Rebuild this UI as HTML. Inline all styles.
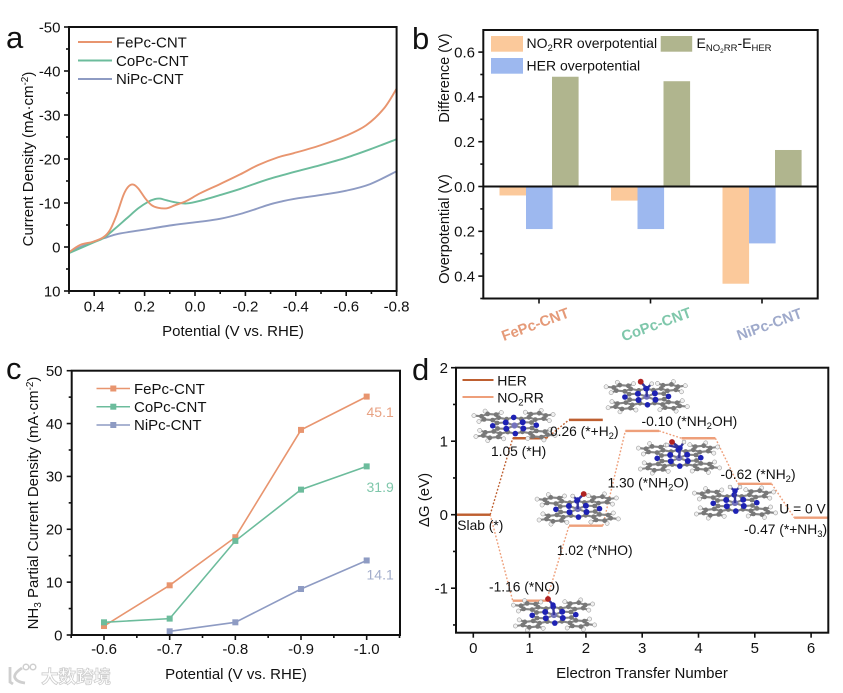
<!DOCTYPE html>
<html lang="en">
<head>
<meta charset="utf-8">
<title>Electrocatalysis figure</title>
<style>
html,body{margin:0;padding:0;background:#fff;width:843px;height:693px;overflow:hidden}
svg{display:block;filter:blur(.35px)}
text{font-family:"Liberation Sans","Noto Sans CJK SC",sans-serif;fill:#111;font-size:15px}
.pl{font-size:31px;fill:#111}
.an{font-size:13.8px}
.tk{font-size:15px}
</style>
</head>
<body>
<svg id="fig" width="843" height="693" viewBox="0 0 843 693" xmlns="http://www.w3.org/2000/svg">
  <rect width="843" height="693" fill="#fff"/>

  <g id="panel-a"></g>
  <g id="panel-b"></g>
  <g id="panel-c"></g>
  <g id="panel-d"></g>

  <!-- Panel letters -->
  <text class="pl" x="6" y="48">a</text>
  <text class="pl" x="412" y="49">b</text>
  <text class="pl" x="6" y="379">c</text>
  <text class="pl" x="412" y="380">d</text>

  <!-- Panel a static -->
  <text x="233" y="336" text-anchor="middle">Potential (V vs. RHE)</text>
  <text transform="translate(33,159) rotate(-90)" text-anchor="middle">Current Density (mA·cm<tspan dy="-5" style="font-size:10px">-2</tspan><tspan dy="5">)</tspan></text>
  <g>
    <line x1="78" x2="112" y1="42" y2="42" stroke="#E8956F" stroke-width="2"/>
    <text x="116" y="47.5">FePc-CNT</text>
    <line x1="78" x2="112" y1="60.5" y2="60.5" stroke="#6CBC9C" stroke-width="2"/>
    <text x="116" y="66">CoPc-CNT</text>
    <line x1="78" x2="112" y1="79" y2="79" stroke="#8E9BC3" stroke-width="2"/>
    <text x="116" y="84">NiPc-CNT</text>
  </g>

  <!-- Panel b static -->
  <text transform="translate(449,78) rotate(-90)" text-anchor="middle" style="font-size:14.5px">Difference (V)</text>
  <text transform="translate(449,229) rotate(-90)" text-anchor="middle" style="font-size:14.5px">Overpotential (V)</text>
  <g>
    <rect x="491" y="36" width="32" height="15.7" fill="#FBC99B"/>
    <text x="526.5" y="48" style="font-size:14px">NO<tspan dy="3" style="font-size:9.5px">2</tspan><tspan dy="-3">RR overpotential</tspan></text>
    <rect x="660.7" y="36" width="31.5" height="15.7" fill="#B0B58E"/>
    <text x="696.5" y="48" style="font-size:14px">E<tspan dy="3" style="font-size:9.5px">NO</tspan><tspan dy="2" style="font-size:6.5px">2</tspan><tspan dy="-2" style="font-size:9.5px">RR</tspan><tspan dy="-3">-E</tspan><tspan dy="3" style="font-size:9.5px">HER</tspan></text>
    <rect x="491" y="58" width="32" height="15.7" fill="#9DB8EF"/>
    <text x="526.5" y="70.7" style="font-size:14px">HER overpotential</text>
  </g>

  <!-- Panel c static -->
  <text x="236" y="679" text-anchor="middle">Potential (V vs. RHE)</text>
  <text transform="translate(38,503) rotate(-90)" text-anchor="middle">NH<tspan dy="3" style="font-size:10px">3</tspan><tspan dy="-3"> Partial Current Density (mA·cm</tspan><tspan dy="-5" style="font-size:10px">-2</tspan><tspan dy="5">)</tspan></text>
  <g>
    <line x1="96.5" x2="130" y1="388.5" y2="388.5" stroke="#E8956F" stroke-width="1.5"/>
    <rect x="110.3" y="385.5" width="6" height="6" fill="#E8956F"/>
    <text x="134" y="394">FePc-CNT</text>
    <line x1="96.5" x2="130" y1="406.7" y2="406.7" stroke="#6CBC9C" stroke-width="1.5"/>
    <rect x="110.3" y="403.7" width="6" height="6" fill="#6CBC9C"/>
    <text x="134" y="412">CoPc-CNT</text>
    <line x1="96.5" x2="130" y1="425" y2="425" stroke="#8E9BC3" stroke-width="1.5"/>
    <rect x="110.3" y="422" width="6" height="6" fill="#8E9BC3"/>
    <text x="134" y="430">NiPc-CNT</text>
  </g>
  <text x="366.5" y="417" style="font-size:14px;fill:#E8A283">45.1</text>
  <text x="366.5" y="492" style="font-size:14px;fill:#7FC7AB">31.9</text>
  <text x="366.5" y="579.5" style="font-size:14px;fill:#A2ADCB">14.1</text>

  <!-- Panel d static -->
  <text x="642" y="678" text-anchor="middle">Electron Transfer Number</text>
  <text transform="translate(429,500) rotate(-90)" text-anchor="middle">ΔG (eV)</text>
  <g>
    <line x1="462.5" x2="493.5" y1="380" y2="380" stroke="#BE5F30" stroke-width="2"/>
    <text x="497.3" y="385.5" style="font-size:14px">HER</text>
    <line x1="462.5" x2="493.5" y1="397" y2="397" stroke="#EE9F7A" stroke-width="2"/>
    <text x="497.3" y="402.5" style="font-size:14px">NO<tspan dy="3" style="font-size:9.5px">2</tspan><tspan dy="-3">RR</tspan></text>
  </g>
  <g id="d-annotations">
    <text class="an" x="491" y="456">1.05 (*H)</text>
    <text class="an" x="550" y="436">0.26 (*+H<tspan dy="3" style="font-size:9.5px">2</tspan><tspan dy="-3">)</tspan></text>
    <text class="an" x="641.5" y="426">-0.10 (*NH<tspan dy="3" style="font-size:9.5px">2</tspan><tspan dy="-3">OH)</tspan></text>
    <text class="an" x="607.5" y="487.5">1.30 (*NH<tspan dy="3" style="font-size:9.5px">2</tspan><tspan dy="-3">O)</tspan></text>
    <text class="an" x="720.5" y="479">-0.62 (*NH<tspan dy="3" style="font-size:9.5px">2</tspan><tspan dy="-3">)</tspan></text>
    <text class="an" x="779.3" y="513.5">U = 0 V</text>
    <text class="an" x="744" y="534">-0.47 (*+NH<tspan dy="3" style="font-size:9.5px">3</tspan><tspan dy="-3">)</tspan></text>
    <text class="an" x="457.3" y="530">Slab (*)</text>
    <text class="an" x="556.7" y="555">1.02 (*NHO)</text>
    <text class="an" x="489" y="591.5">-1.16 (*NO)</text>
  </g>

  <!-- Watermark -->
  <g>
    <path d="M10 667v15l3 2 M22 668q-9 6-7 10t10 5" fill="none" stroke="#cfcfcf" stroke-width="2.8"/>
    <circle cx="26" cy="667" r="2.8" fill="#fff" stroke="#cfcfcf" stroke-width="1.5"/>
    <circle cx="33" cy="667" r="2.8" fill="#fff" stroke="#cfcfcf" stroke-width="1.5"/>
    <text x="41" y="683" style="font-size:17.5px;font-weight:bold;fill:#fff;stroke:#cdcdcd;stroke-width:.8px">大数跨境</text>
  </g>
</svg>

<script>
/* ---------- Panel a: LSV curves ---------- */
const aPotentialFe = [0.5,0.456,0.404,0.364,0.337,0.311,0.284,0.265,0.245,0.225,0.198,0.172,0.146,0.112,0.079,0.033,-0.02,-0.099,-0.179,-0.25,-0.33,-0.39,-0.497,-0.6,-0.68,-0.75,-0.8];
const aCurrentFe = [1.2,-0.45,-1.2,-2.2,-3.9,-7.3,-11.8,-13.7,-14.2,-13.3,-11.1,-9.5,-8.9,-8.8,-9.5,-10.5,-12.2,-14.3,-16.5,-18.6,-20.4,-21.3,-23.1,-25.3,-27.7,-31.5,-36];
const aPotentialCo = [0.5,0.404,0.364,0.317,0.271,0.225,0.185,0.159,0.139,0.112,0.073,0.033,-0.02,-0.099,-0.179,-0.285,-0.39,-0.497,-0.6,-0.695,-0.8];
const aCurrentCo = [1.4,-1,-2,-4.2,-6.5,-8.8,-10.3,-10.9,-11,-10.6,-10.1,-9.9,-10.5,-11.8,-13.2,-15.3,-17,-18.6,-20.3,-22.2,-24.5];
const aPotentialNi = [0.5,0.404,0.35,0.304,0.205,0.086,-0.02,-0.099,-0.179,-0.24,-0.298,-0.34,-0.39,-0.497,-0.6,-0.695,-0.8];
const aCurrentNi = [1.1,-1.2,-2.2,-3,-3.9,-5,-5.75,-6.4,-7.5,-8.6,-9.7,-10.3,-10.9,-11.8,-12.8,-14.3,-17.2];
const aXMajor = [0.4,0.2,0,-0.2,-0.4,-0.6,-0.8];
const aXMinor = [0.5,0.3,0.1,-0.1,-0.3,-0.5,-0.7];
const aYMajor = [-50,-40,-30,-20,-10,0,10];
const aYMinor = [-45,-35,-25,-15,-5,5];

/* ---------- Panel b: bars ---------- */
const bCategories = ['FePc-CNT','CoPc-CNT','NiPc-CNT'];
const bNo2rrOverpotential = [0.04,0.063,0.434];
const bHerOverpotential = [0.19,0.19,0.254];
const bDifference = [0.49,0.47,0.163];
const bYMajor = [0.6,0.4,0.2,0,-0.2,-0.4];
const bYMinor = [0.5,0.3,0.1,-0.1,-0.3,-0.5];

/* ---------- Panel c: partial current ---------- */
const cPotential = [-0.6,-0.7,-0.8,-0.9,-1.0];
const cFe = [1.7,9.4,18.5,38.8,45.1];
const cCo = [2.4,3.1,17.8,27.5,31.9];
const cNi = [null,0.7,2.4,8.7,14.1];
const cXMinor = [-0.55,-0.65,-0.75,-0.85,-0.95,-1.05];
const cYMajor = [0,10,20,30,40,50];
const cYMinor = [5,15,25,35,45];

/* ---------- Panel d: free-energy diagram ---------- */
const dHerEnergy = [0,1.04,1.29];
const dNo2rrEnergy = [0,-1.17,-0.15,1.14,1.04,0.42,-0.04];
const dXMajor = [0,1,2,3,4,5,6];
const dYMajor = [-1,0,1,2];
const dYMinor = [-1.5,-0.5,0.5,1.5];

const NS = 'http://www.w3.org/2000/svg';
function mk(parent, tag, attrs, txt) {
  const e = document.createElementNS(NS, tag);
  for (const k in attrs) e.setAttribute(k, attrs[k]);
  if (txt !== undefined) e.textContent = txt;
  parent.appendChild(e);
  return e;
}
function smoothPath(pts) {
  let d = 'M' + pts[0][0].toFixed(2) + ' ' + pts[0][1].toFixed(2);
  for (let i = 0; i < pts.length - 1; i++) {
    const p0 = pts[Math.max(i - 1, 0)], p1 = pts[i], p2 = pts[i + 1], p3 = pts[Math.min(i + 2, pts.length - 1)];
    const c1x = p1[0] + (p2[0] - p0[0]) / 6, c1y = p1[1] + (p2[1] - p0[1]) / 6;
    const c2x = p2[0] - (p3[0] - p1[0]) / 6, c2y = p2[1] - (p3[1] - p1[1]) / 6;
    d += 'C' + [c1x, c1y, c2x, c2y, p2[0], p2[1]].map(v => v.toFixed(2)).join(' ');
  }
  return d;
}
function tickX(g, x, yBase, len, label, labelY) {
  const t = mk(g, 'line', {x1:x, x2:x, y1:yBase, y2:yBase + len, stroke:'#111', 'stroke-width':1.6});
  
  
  if (label !== undefined) {
    const l = mk(g, 'text', {x:x, y:labelY, 'text-anchor':'middle', class:'tk'}, label);
    
    
  }
}
function tickY(g, y, xBase, len, label, labelX) {
  const t = mk(g, 'line', {x1:xBase, x2:xBase - len, y1:y, y2:y, stroke:'#111', 'stroke-width':1.6});
  
  
  if (label !== undefined) {
    const l = mk(g, 'text', {x:labelX, y:y + 5.3, 'text-anchor':'end', class:'tk'}, label);
    
    
  }
}
function frame(g, x0, y0, x1, y1) {
  const f = mk(g, 'rect', {x:x0, y:y0, width:x1 - x0, height:y1 - y0, fill:'none', stroke:'#111', 'stroke-width':2});
  
  
}
function fmtSigned(v) { return v === 0 ? '0.0' : v.toFixed(1); }

/* ---------- draw a ---------- */
(function () {
  const g = document.getElementById('panel-a');
  const xA = v => 195 - v * 252;
  const yA = v => 247 + v * 4.4;
  const series = [
    ['curve-nipc', aPotentialNi, aCurrentNi, '#8E9BC3'],
    ['curve-copc', aPotentialCo, aCurrentCo, '#6CBC9C'],
    ['curve-fepc', aPotentialFe, aCurrentFe, '#E8956F']
  ];
  series.forEach(s => {
    const pts = s[1].map((p, i) => [xA(p), yA(s[2][i])]);
    const c = mk(g, 'path', {d:smoothPath(pts), fill:'none', stroke:s[3], 'stroke-width':1.9});
    
    
  });
  frame(g, xA(0.5), yA(-50), xA(-0.8), yA(10));
  aXMajor.forEach(v => tickX(g, xA(v), 291, 5, fmtSigned(v), 311.7));
  aXMinor.forEach(v => tickX(g, xA(v), 291, 3));
  aYMajor.forEach(v => tickY(g, yA(v), 69, 5, String(v), 60.5));
  aYMinor.forEach(v => tickY(g, yA(v), 69, 3));
})();

/* ---------- draw b ---------- */
(function () {
  const g = document.getElementById('panel-b');
  const xB = i => 539 + i * 111.5;
  const yB = v => 186.5 - v * 224;
  const barW = 26.6;
  bCategories.forEach((cat, i) => {
    const cx = xB(i);
    const b1 = mk(g, 'rect', {x:cx - 39.5, y:yB(0), width:barW, height:yB(-bNo2rrOverpotential[i]) - yB(0), fill:'#FBC99B'});
    
    
    const b2 = mk(g, 'rect', {x:cx - 13, y:yB(0), width:barW, height:yB(-bHerOverpotential[i]) - yB(0), fill:'#9DB8EF'});
    
    
    const b3 = mk(g, 'rect', {x:cx + 13, y:yB(bDifference[i]), width:barW, height:yB(0) - yB(bDifference[i]), fill:'#B0B58E'});
    
    
  });
  const zero = mk(g, 'line', {x1:483.3, x2:817.7, y1:yB(0), y2:yB(0), stroke:'#111', 'stroke-width':2});
  
  
  frame(g, 483.3, 30, 817.7, 298.5);
  const colors = ['#E59A78', '#7FC7AB', '#9FAACB'];
  bCategories.forEach((cat, i) => {
    tickX(g, xB(i), 298.5, 5);
    const cx = [537, 658, 771][i];
    const l = mk(g, 'text', {transform:'translate(' + cx + ',329) rotate(-20)', 'text-anchor':'middle', style:'font-size:14.8px;font-weight:bold;fill:' + colors[i]}, cat);
    
    
  });
  bYMajor.forEach(v => tickY(g, yB(v), 483.3, 5, Math.abs(v).toFixed(1), 475));
  bYMinor.forEach(v => tickY(g, yB(v), 483.3, 3));
})();

/* ---------- draw c ---------- */
(function () {
  const g = document.getElementById('panel-c');
  const xC = v => 104 + (-0.6 - v) * 656.7;
  const yC = v => 635 - v * 5.286;
  const series = [
    ['fepc', cFe, '#E8956F'],
    ['copc', cCo, '#6CBC9C'],
    ['nipc', cNi, '#8E9BC3']
  ];
  series.forEach(s => {
    const pts = [];
    s[1].forEach((v, i) => { if (v !== null) pts.push([xC(cPotential[i]), yC(v)]); });
    const line = mk(g, 'polyline', {points:pts.map(p => p.join(',')).join(' '), fill:'none', stroke:s[2], 'stroke-width':1.6});
    
    
    pts.forEach(p => {
      const m = mk(g, 'rect', {x:p[0] - 3, y:p[1] - 3, width:6, height:6, fill:s[2]});
      
      
    });
  });
  frame(g, 71.7, 370.7, 400, 635);
  cPotential.forEach(v => tickX(g, xC(v), 635, 5, v.toFixed(1), 654));
  cXMinor.forEach(v => tickX(g, xC(v), 635, 3));
  cYMajor.forEach(v => tickY(g, yC(v), 71.7, 5, String(v), 62.5));
  cYMinor.forEach(v => tickY(g, yC(v), 71.7, 3));
})();

/* ---------- molecule drawing (decorative ball-and-stick) ---------- */
function drawMolecule(parent, name, cx, cy, adsorbate) {
  const mol = mk(parent, 'g', {});
  
  
  const ang = 43 * Math.PI / 180, sx = 6.3, sy = 2.35;
  const proj = (x, y) => {
    const a = x * Math.cos(ang) - y * Math.sin(ang);
    const b = x * Math.sin(ang) + y * Math.cos(ang);
    return [cx + a * sx, cy + b * sy];
  };
  const rot = (p, k) => {
    const c = [1, 0, -1, 0][k], s = [0, 1, 0, -1][k];
    return [p[0] * c - p[1] * s, p[0] * s + p[1] * c];
  };
  const unit = {N:[1.9,0], Ap:[2.75,1.1], Am:[2.75,-1.1], Bp:[4.1,.7], Bm:[4.1,-.7], Gp:[5.3,1.4], Gm:[5.3,-1.4],
    Dp:[6.5,.7], Dm:[6.5,-.7], Hgp:[5.3,2.6], Hgm:[5.3,-2.6], Hdp:[7.6,1.3], Hdm:[7.6,-1.3], Mp:[2.45,2.45], Mm:[2.45,-2.45]};
  const bonds = [['N','Ap'],['N','Am'],['Ap','Bp'],['Am','Bm'],['Bp','Bm'],['Bp','Gp'],['Bm','Gm'],['Gp','Dp'],['Gm','Dm'],['Dp','Dm'],
    ['Gp','Hgp'],['Gm','Hgm'],['Dp','Hdp'],['Dm','Hdm'],['Ap','Mp'],['Am','Mm']];
  let d = '';
  for (let k = 0; k < 4; k++) {
    bonds.forEach(b => {
      const p = proj(...rot(unit[b[0]], k)), q = proj(...rot(unit[b[1]], k));
      d += 'M' + p[0].toFixed(1) + ' ' + p[1].toFixed(1) + 'L' + q[0].toFixed(1) + ' ' + q[1].toFixed(1);
    });
    const n = proj(...rot(unit.N, k));
    d += 'M' + cx + ' ' + cy + 'L' + n[0].toFixed(1) + ' ' + n[1].toFixed(1);
  }
  const bp = mk(mol, 'path', {d:d, stroke:'#858585', 'stroke-width':2.1, fill:'none'});
  
  
  const atom = (p, r, fill, stroke) => {
    const a = mk(mol, 'circle', {cx:p[0].toFixed(1), cy:p[1].toFixed(1), r:r, fill:fill, stroke:stroke || 'none', 'stroke-width':.5});
    
    
  };
  for (let k = 0; k < 4; k++) {
    ['Hgp','Hgm','Hdp','Hdm'].forEach(n => atom(proj(...rot(unit[n], k)), 2.1, '#f0f0f0', '#888'));
    ['Ap','Am','Bp','Bm','Gp','Gm','Dp','Dm'].forEach(n => atom(proj(...rot(unit[n], k)), 2.4, '#787878'));
  }
  for (let k = 0; k < 4; k++) {
    atom(proj(...rot(unit.Mp, k)), 2.8, '#1E22B4');
    atom(proj(...rot(unit.N, k)), 3, '#1E22B4');
  }
  atom([cx, cy], 3.1, '#7372BC');
  if (adsorbate.length) {
    const n0 = adsorbate[0];
    let ds = 'M' + cx + ' ' + cy + 'L' + (cx + n0[1]) + ' ' + (cy + n0[2]);
    adsorbate.slice(1).forEach(a => { ds += 'M' + (cx + n0[1]) + ' ' + (cy + n0[2]) + 'L' + (cx + a[1]) + ' ' + (cy + a[2]); });
    const st = mk(mol, 'path', {d:ds, stroke:'#34349c', 'stroke-width':2.4, fill:'none'});
    
    
    adsorbate.forEach(a => {
      if (a[0] === 'N') atom([cx + a[1], cy + a[2]], 2.7, '#1E22B4');
      if (a[0] === 'O') atom([cx + a[1], cy + a[2]], 2.9, '#B02222');
      if (a[0] === 'H') atom([cx + a[1], cy + a[2]], 2, '#f0f0f0', '#888');
    });
  }
}

/* ---------- draw d ---------- */
(function () {
  const g = document.getElementById('panel-d');
  const xD = v => 473.3 + v * 56.3;
  const yD = v => 514.7 - v * 73.5;
  const drawSeries = (values, color, nm) => {
    values.forEach((e, i) => {
      const lv = mk(g, 'line', {x1:xD(i - .3), x2:xD(i + .3), y1:yD(e), y2:yD(e), stroke:color, 'stroke-width':2.4});
      
      
      if (i < values.length - 1) {
        const c = mk(g, 'line', {x1:xD(i + .3), x2:xD(i + .7), y1:yD(e), y2:yD(values[i + 1]), stroke:color, 'stroke-width':1.4, 'stroke-dasharray':'1.8 1.8'});
        
        
      }
    });
  };
  drawSeries(dNo2rrEnergy, '#EE9F7A', 'no2rr');
  drawSeries(dHerEnergy, '#BE5F30', 'her');
  drawMolecule(g, 'molecule-h', 514.5, 425.5, []);
  drawMolecule(g, 'molecule-nho', 577.7, 509, [['N',0,-9],['O',6,-15],['H',-5,-13]]);
  drawMolecule(g, 'molecule-no', 554, 615, [['N',-1,-10],['O',-6,-16]]);
  drawMolecule(g, 'molecule-nh2oh', 646.7, 396.7, [['N',0,-8],['O',-6,-15],['H',5,-13]]);
  drawMolecule(g, 'molecule-nh2o', 679, 458, [['N',1,-10],['O',-7,-16],['H',-12,-13],['H',5,-16]]);
  drawMolecule(g, 'molecule-nh2', 735, 503, [['N',0,-12],['H',-5,-16],['H',5,-16]]);
  frame(g, 456, 367.7, 828.3, 632.7);
  dXMajor.forEach(v => tickX(g, xD(v), 632.7, 5, String(v), 653));
  dYMajor.forEach(v => tickY(g, yD(v), 456, 5, String(v), 448));
  dYMinor.forEach(v => tickY(g, yD(v), 456, 3));
})();
</script>
</body>
</html>
